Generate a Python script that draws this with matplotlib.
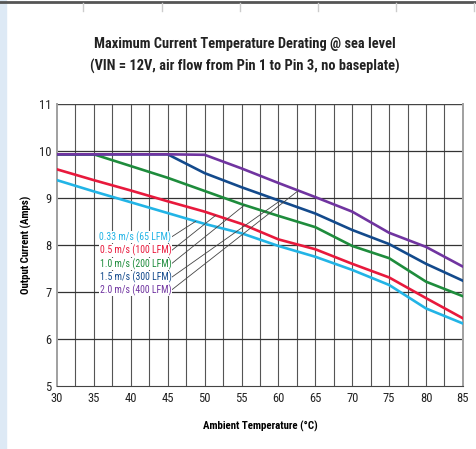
import numpy as np
import matplotlib
matplotlib.use("Agg")
import matplotlib.pyplot as plt
from matplotlib import font_manager
from matplotlib.patches import Rectangle
from matplotlib.lines import Line2D

# narrow sans if there is one, else Roboto
have = {f.name for f in font_manager.fontManager.ttflist}
narrow = [n for n in ['Roboto Condensed', 'Archivo Narrow', 'PT Sans Narrow',
                      'Liberation Sans Narrow', 'Fira Sans Condensed',
                      'IBM Plex Sans Condensed', 'Roboto'] if n in have]
plt.rcParams['font.family'] = narrow[:1] + ['DejaVu Sans']

# data
temps = [30, 35, 40, 45, 50, 55, 60, 65, 70, 75, 80, 85]
i_033 = [9.38, 9.14, 8.91, 8.68, 8.45, 8.25, 7.98, 7.75, 7.47, 7.15, 6.65, 6.33]
i_05 = [9.61, 9.38, 9.16, 8.93, 8.71, 8.45, 8.12, 7.91, 7.60, 7.31, 6.87, 6.44]
i_10 = [9.93, 9.93, 9.68, 9.43, 9.15, 8.87, 8.62, 8.38, 7.98, 7.72, 7.22, 6.91]
i_15 = [9.93, 9.93, 9.93, 9.93, 9.53, 9.23, 8.95, 8.67, 8.32, 8.02, 7.60, 7.24]
i_20 = [9.93, 9.93, 9.93, 9.93, 9.92, 9.63, 9.32, 9.02, 8.71, 8.26, 7.96, 7.54]

labels = ['0.33 m/s (65 LFM)', '0.5 m/s (100 LFM)', '1.0 m/s (200 LFM)',
          '1.5 m/s (300 LFM)', '2.0 m/s (400 LFM)']
colors = ['#22b4e6', '#e8193c', '#1e8c3c', '#134a8c', '#7034a0']
series = [i_033, i_05, i_10, i_15, i_20]

# where each label sits and where its leader meets the curve
label_y = [8.17, 7.88, 7.60, 7.31, 7.04]
leader_x = [48.8, 51.5, 55.4, 60.2, 62.7]

fig = plt.figure(figsize=(4.77, 4.49), dpi=100)
ax = fig.add_axes([0.1195, 0.1403, 0.851, 0.628])

# grid
for xv in np.arange(32.5, 85, 2.5):
    ax.axvline(xv, color='#555555', lw=0.8, zorder=1)
for yv in range(6, 11):
    ax.axhline(yv, color='#333333', lw=0.9, zorder=1)
ax.axhline(11, color='#444444', lw=1.0, zorder=1)

for y, c in zip(series, colors):
    ax.plot(temps, y, color=c, lw=1.9, zorder=3, solid_joinstyle='round')

for lab, c, ly, lx, y in zip(labels, colors, label_y, leader_x, series):
    ty = np.interp(lx, temps, y)
    ax.annotate(lab, xy=(lx, ty), xytext=(45.5, ly), color=c, fontsize=7,
                ha='right', va='center', zorder=4,
                bbox=dict(boxstyle='square,pad=0.05', fc='white', ec='none'),
                arrowprops=dict(arrowstyle='-', color='#444444', lw=0.6,
                                relpos=(1, 0.5), shrinkA=0, shrinkB=0))

ax.set_xlim(30, 85)
ax.set_ylim(5, 11)
ax.set_xticks(range(30, 86, 5))
ax.set_yticks(range(5, 12))
ax.tick_params(length=0, labelsize=9, pad=4, colors='#222222')
for s in ['left', 'right']:
    ax.spines[s].set_color('#a0a0a0')
    ax.spines[s].set_linewidth(1.4)
ax.spines['bottom'].set_color('#444444')
ax.spines['top'].set_visible(False)

ax.set_xlabel('Ambient Temperature (°C)', fontsize=7.8, fontweight='bold', labelpad=12)
ax.set_ylabel('Output Current (Amps)', fontsize=7.8, fontweight='bold', labelpad=5)

fig.text(0.514, 0.903, 'Maximum Current Temperature Derating @ sea level',
         ha='center', va='center', fontsize=10.4, fontweight='bold', color='#222222')
fig.text(0.514, 0.853, '(VIN = 12V, air flow from Pin 1 to Pin 3, no baseplate)',
         ha='center', va='center', fontsize=10.4, fontweight='bold', color='#222222')

# page frame bits around the chart
fig.patches.append(Rectangle((0, 0), 6 / 477, 1, transform=fig.transFigure,
                             color='#dde9f5', zorder=0))
fig.lines.append(Line2D([0, 1], [1 - 1.5 / 449] * 2, transform=fig.transFigure,
                        color='#555555', lw=2))
for px in [83, 162, 240, 318, 396, 474]:
    fig.lines.append(Line2D([px / 477] * 2, [1 - 3 / 449, 1 - 11 / 449],
                            transform=fig.transFigure, color='#cccccc', lw=1))

fig.savefig('out.png', dpi=100)
